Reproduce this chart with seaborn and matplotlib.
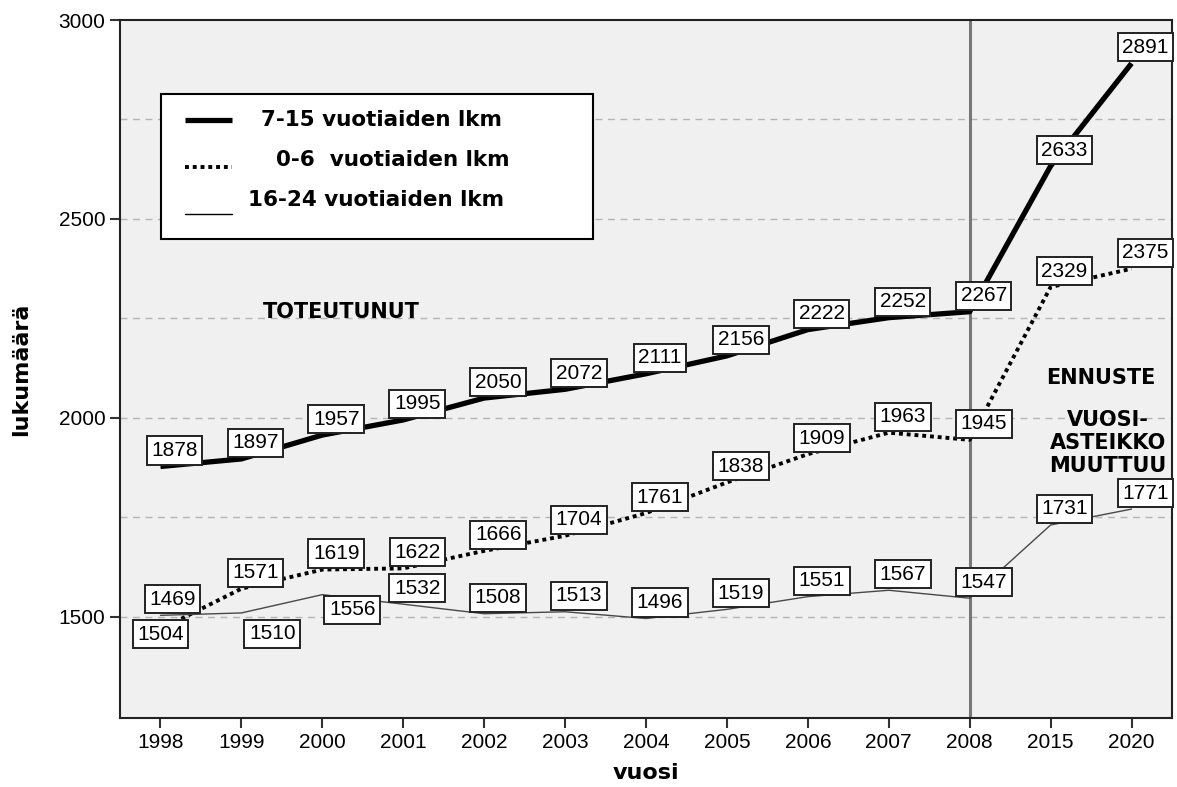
import numpy as np
import pandas as pd
import matplotlib
matplotlib.use("Agg")
import matplotlib.pyplot as plt
from matplotlib.patches import Rectangle
from matplotlib.lines import Line2D
import seaborn as sns

# data
years = ["1998", "1999", "2000", "2001", "2002", "2003", "2004",
         "2005", "2006", "2007", "2008", "2015", "2020"]
age_7_15 = [1878, 1897, 1957, 1995, 2050, 2072, 2111, 2156, 2222, 2252, 2267, 2633, 2891]
age_0_6 = [1469, 1571, 1619, 1622, 1666, 1704, 1761, 1838, 1909, 1963, 1945, 2329, 2375]
age_16_24 = [1504, 1510, 1556, 1532, 1508, 1513, 1496, 1519, 1551, 1567, 1547, 1731, 1771]

pos = np.arange(len(years))
df = pd.DataFrame({"pos": pos, "y715": age_7_15, "y06": age_0_6, "y1624": age_16_24})

sns.set_style("white")
plt.rcParams["font.family"] = ["Liberation Sans", "DejaVu Sans"]
plt.rcParams["text.color"] = "black"
plt.rcParams["axes.labelcolor"] = "black"
plt.rcParams["xtick.color"] = "black"
plt.rcParams["ytick.color"] = "black"

fig = plt.figure(figsize=(11.77, 7.87), dpi=100)
ax = fig.add_axes([120 / 1177, 69 / 787, 1052 / 1177, 698 / 787])
ax.set_facecolor("#f0f0f0")

# grid
for g in [1500, 1750, 2000, 2250, 2500, 2750]:
    ax.axhline(g, color="#b4b4b4", lw=1, ls=(0, (5, 4)), zorder=0)

dotted = (0, (1, 1))
sns.lineplot(data=df, x="pos", y="y715", ax=ax, color="black", lw=3.8, zorder=3,
             solid_capstyle="butt")
sns.lineplot(data=df, x="pos", y="y06", ax=ax, color="black", lw=2.8,
             linestyle=dotted, zorder=3)
sns.lineplot(data=df, x="pos", y="y1624", ax=ax, color="#484848", lw=1.0, zorder=3)

ax.axvline(10, color="#777777", lw=2.2, zorder=2)

# value labels, offsets in pixels
box = dict(boxstyle="square,pad=0.22", fc="white", ec="#222222", lw=1.4)
default_off = (14, 16)
special = {("y06", 0): (12, 30), ("y1624", 0): (0, -19),
           ("y1624", 1): (31, -21), ("y1624", 2): (30, -15)}
for key, vals in [("y715", age_7_15), ("y06", age_0_6), ("y1624", age_16_24)]:
    for i, v in enumerate(vals):
        off = special.get((key, i), default_off)
        ax.annotate(str(v), (pos[i], v), xytext=off, textcoords="offset pixels",
                    ha="center", va="center", fontsize=15, bbox=box, zorder=5)

ax.set_xlim(-0.5, len(years) - 0.5)
ax.set_ylim(1246, 3000)
ax.set_xticks(pos, years)
ax.set_yticks([1500, 2000, 2500, 3000])
ax.tick_params(axis="both", direction="out", length=7, width=1.5, labelsize=15,
               color="#333333", bottom=True, left=True)
for s in ax.spines.values():
    s.set_color("#222222")
    s.set_linewidth(1.5)

ax.set_xlabel("vuosi", fontsize=16, fontweight="bold", family="DejaVu Sans", labelpad=8)
ax.set_ylabel("lukumäärä", fontsize=16, fontweight="bold", family="DejaVu Sans", labelpad=20)


def ax_xy(px, py):
    return (px - 120) / 1052, (718 - py) / 698


# annotations
bold = dict(fontsize=15, fontweight="bold", family="DejaVu Sans", ha="center", va="center")
t = ax_xy(341, 312)
ax.text(t[0], t[1], "TOTEUTUNUT", transform=ax.transAxes, **bold)
t = ax_xy(1101, 378)
ax.text(t[0], t[1], "ENNUSTE", transform=ax.transAxes, **bold)
t = ax_xy(1108, 443)
ax.text(t[0], t[1], "VUOSI-\nASTEIKKO\nMUUTTUU", transform=ax.transAxes,
        linespacing=1.2, **bold)

# legend box
x0, y0 = ax_xy(161, 239)
x1, y1 = ax_xy(593, 94)
ax.add_patch(Rectangle((x0, y0), x1 - x0, y1 - y0, transform=ax.transAxes,
                       fc="white", ec="black", lw=1.5, zorder=6))
items = [(120, 120, dict(color="black", lw=3.8, solid_capstyle="butt"), 261, "7-15 vuotiaiden lkm"),
         (167, 160, dict(color="black", lw=2.8, ls=dotted), 276, "0-6  vuotiaiden lkm"),
         (214, 200, dict(color="black", lw=1.0), 248, "16-24 vuotiaiden lkm")]
for ly, ty, style, tx, lab in items:
    a = ax_xy(185, ly)
    b = ax_xy(232, ly)
    ax.add_line(Line2D([a[0], b[0]], [a[1], b[1]], transform=ax.transAxes, zorder=7, **style))
    t = ax_xy(tx, ty)
    ax.text(t[0], t[1], lab, transform=ax.transAxes, fontsize=15.5, fontweight="bold",
            family="DejaVu Sans", ha="left", va="center", zorder=7)

fig.savefig("out.png", dpi=100)
